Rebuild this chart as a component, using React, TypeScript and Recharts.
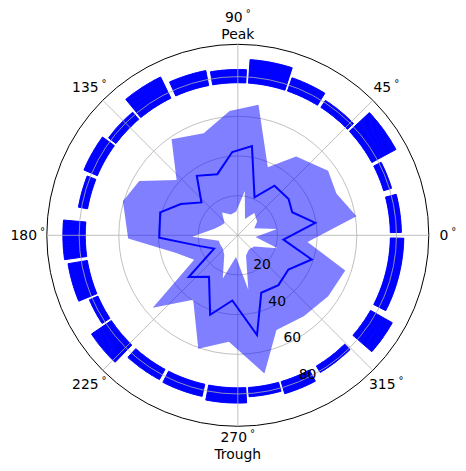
import React from 'react';
import {
  RadarChart,
  Radar,
  PolarGrid,
  PolarAngleAxis,
  PolarRadiusAxis,
  RadialBarChart,
  RadialBar,
  Cell,
} from 'recharts';

const W = 466;
const H = 471;
const CX = 237.8;
const CY = 235.3;
const OUTER = 191;
const R_MAX = 96.3;
const BLUE = '#0000ff';
const FONT = '"DejaVu Sans", sans-serif';

// sampled directions (deg) and the three radial curves
const theta = [9.1, 23, 35.6, 53.5, 66.2, 81, 93.8, 108.5, 124.6, 137.9, 151.2, 163.5, 181.7, 196, 209.2, 220.4, 235.3, 250.8, 265.2, 280.9, 292.2, 309.2, 326, 341.9, 354.6];
const meanR = [39.6, 29.8, 31.5, 31.1, 20.9, 45.6, 42.1, 32.5, 36.4, 24.7, 32.8, 40.8, 39.6, 19.8, 13.7, 32.5, 25.5, 42.4, 33, 51.2, 31.3, 32.4, 30.8, 39.2, 23.1];
const lowR = [20, 9, 12, 14, 9, 22.6, 12, 11, 14, 9, 10, 12, 23, 10, 10, 10, 12, 23, 11, 28, 11, 9, 10, 21, 9];
const highR = [60.6, 54, 56, 49.5, 37.5, 66.6, 62.8, 54.2, 58.8, 41.6, 56.7, 60.4, 55.3, 32.3, 25.2, 56.3, 39.5, 60.6, 53.8, 71, 51.6, 52.6, 55, 57, 35.3];

const angleTicks = [0, 45, 90, 135, 180, 225, 270, 315];
const angleNames: Record<number, string> = { 90: 'Peak', 270: 'Trough' };
const radiusTicks = [20, 40, 60, 80];

// outer ring of bars: start / end angle (deg) and top value, common bottom
const barStart = [0.8, 16.8, 28.3, 44, 58.4, 72, 87, 101, 116, 130.5, 144, 158.3, 175, 189.5, 203.5, 214, 228, 243, 259, 274, 286.5, 301, 319, 333];
const barEnd = [15.5, 28.3, 44, 58.4, 72, 87, 100.5, 115, 130.5, 144, 158.3, 171, 189, 203.5, 214, 227, 242.5, 258.5, 274, 286.5, 299, 315.5, 331.5, 360];
const barTop = [82.5, 81.1, 90.7, 81.1, 84, 88.8, 83.6, 84.6, 88.8, 81.6, 84.3, 81.6, 88.2, 86.8, 81.6, 89, 82.8, 83.2, 84.6, 81.6, 83.3, 80.7, 89.5, 83.7];
const BAR_BOTTOM = 76.9;
const STEP = 0.5;
const GAP = 1.0;

const polarData = theta.map((t, i) => ({
  theta: t,
  mean: meanR[i],
  band: [lowR[i], highR[i]],
}));

// fine angular slots so bars of any width can sit on a category axis
const ringData = Array.from({ length: Math.round(360 / STEP) }, (_, i) => {
  const a = i * STEP;
  const b = a + STEP;
  const c = a + STEP / 2;
  let top: number | null = null;
  let gap = false;
  barStart.forEach((s, k) => {
    const e = barEnd[k];
    [s, e].forEach((edge) => {
      if (b > edge - GAP / 2 && a < edge + GAP / 2) gap = true;
    });
    if (c > s && c < e) top = Math.max(top ?? 0, barTop[k]);
  });
  const on = top !== null && !gap;
  return { slot: i, on, v: [BAR_BOTTOM, on ? (top as number) : BAR_BOTTOM] };
});

const AngleTick = (props: any) => {
  const { x, y, payload } = props;
  const v = payload.value;
  const name = angleNames[v];
  const deg = (yy: number) => (
    <text x={x} y={yy} textAnchor="middle" dominantBaseline="central" fontFamily={FONT} fontSize={13.9} fill="#000">
      {v}
      <tspan dx={3} dy={-4} fontSize={10}>°</tspan>
    </text>
  );
  if (!name) return deg(y);
  return (
    <g>
      {deg(y - 8.3)}
      <text x={x} y={y + 8.3} textAnchor="middle" dominantBaseline="central" fontFamily={FONT} fontSize={13.9} fill="#000">
        {name}
      </text>
    </g>
  );
};

const RadiusTick = (props: any) => {
  const { x, y, payload } = props;
  return (
    <text x={x + 9} y={y - 8} textAnchor="middle" dominantBaseline="central" fontFamily={FONT} fontSize={13.9} fill="#000">
      {payload.value}
    </text>
  );
};

const layer: React.CSSProperties = { position: 'absolute', left: 0, top: 0 };

export default function App() {
  return (
    <div style={{ position: 'absolute', left: 0, top: 0, width: W, height: H, background: '#fff' }}>
      <div style={layer}>
        <RadialBarChart
          width={W}
          height={H}
          cx={CX}
          cy={CY}
          innerRadius={0}
          outerRadius={OUTER}
          startAngle={0}
          endAngle={360}
          data={ringData}
          layout="centric"
          barCategoryGap={0}
          barGap={0}
        >
          <PolarAngleAxis type="category" dataKey="slot" tick={false} tickLine={false} axisLine={false} />
          <PolarRadiusAxis type="number" domain={[0, R_MAX]} ticks={[R_MAX]} tick={false} tickLine={false} axisLine={false} />
          <PolarGrid gridType="circle" radialLines={false} stroke="#000" strokeWidth={1} />
          <RadialBar dataKey="v" isAnimationActive={false}>
            {ringData.map((d) => (
              <Cell
                key={d.slot}
                fill={d.on ? BLUE : 'none'}
                stroke={d.on ? BLUE : 'none'}
                strokeWidth={1}
              />
            ))}
          </RadialBar>
        </RadialBarChart>
      </div>
      <div style={layer}>
        <RadarChart
          width={W}
          height={H}
          cx={CX}
          cy={CY}
          innerRadius={0}
          outerRadius={OUTER}
          startAngle={0}
          endAngle={360}
          data={polarData}
        >
          <PolarGrid gridType="circle" stroke="#b0b0b0" strokeWidth={0.8} />
          <PolarAngleAxis
            type="number"
            dataKey="theta"
            domain={[0, 360]}
            ticks={angleTicks}
            tick={<AngleTick />}
            tickLine={false}
            axisLine={false}
            tickSize={19}
          />
          <PolarRadiusAxis
            type="number"
            angle={-67.5}
            domain={[0, R_MAX]}
            ticks={radiusTicks}
            tick={<RadiusTick />}
            tickLine={false}
            axisLine={false}
          />
          <Radar dataKey="band" fill={BLUE} fillOpacity={0.5} stroke="none" isAnimationActive={false} />
          <Radar dataKey="mean" fill="none" stroke={BLUE} strokeWidth={2} isAnimationActive={false} />
        </RadarChart>
      </div>
    </div>
  );
}
